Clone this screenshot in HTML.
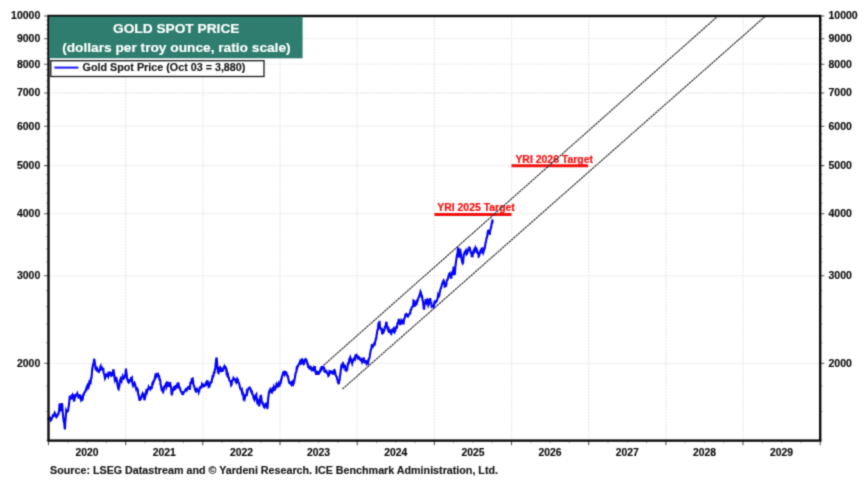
<!DOCTYPE html>
<html><head><meta charset="utf-8"><title>Gold Spot Price</title>
<style>
html,body{margin:0;padding:0;background:#fff;}
body{width:868px;height:481px;overflow:hidden;}
svg{display:block;}
#wrap{width:868px;height:481px;overflow:hidden;}
text{font-family:"Liberation Sans",sans-serif;font-weight:bold;}
</style></head><body>
<div id="wrap">
<svg width="868" height="481" viewBox="0 0 868 481">
<defs><filter id="soft" x="0" y="0" width="868" height="481" filterUnits="userSpaceOnUse" color-interpolation-filters="sRGB"><feConvolveMatrix order="3" kernelMatrix="1 4 1 4 16 4 1 4 1" divisor="36" edgeMode="duplicate" preserveAlpha="true"/></filter></defs>
<g filter="url(#soft)">
<rect x="-5" y="-5" width="878" height="491" fill="#ffffff"/>
<path d="M48.5 38.7H820.2M48.5 64.2H820.2M48.5 93.0H820.2M48.5 126.2H820.2M48.5 165.6H820.2M48.5 213.7H820.2M48.5 275.8H820.2M48.5 363.3H820.2M125.7 16.0V440.6M202.8 16.0V440.6M280.0 16.0V440.6M357.2 16.0V440.6M434.4 16.0V440.6M511.5 16.0V440.6M588.7 16.0V440.6M665.9 16.0V440.6M743.0 16.0V440.6" stroke="#ebebeb" stroke-width="1.3" stroke-dasharray="2 1" fill="none"/>
<path d="M434.4 214.5H511.5M511.5 165.7H588.1" stroke="#f41010" stroke-width="3" fill="none"/>
<text transform="translate(437.2 210.9) scale(1.046 1)" font-size="10.0" fill="#f31212" stroke="#f31212" stroke-width="0.2">YRI 2025 Target</text>
<text transform="translate(515.4 162.6) scale(1.046 1)" font-size="10.0" fill="#f31212" stroke="#f31212" stroke-width="0.2">YRI 2026 Target</text>
<path d="M323.7 365.2L718 16M342.4 389.1L765.6 16" stroke="#333" stroke-width="1.2" stroke-dasharray="2.4 0.6" fill="none"/>
<path d="M48.4 418.5L48.8 419.3L49.2 418.9L49.5 418.7L49.9 418.1L50.3 419.2L50.7 420.1L51.0 419.4L51.4 419.6L51.8 418.5L52.1 417.9L52.5 417.2L52.9 414.5L53.3 416.2L53.6 416.1L54.0 415.2L54.4 413.5L54.7 412.8L55.0 413.6L55.4 414.6L55.8 416.0L56.1 416.2L56.4 417.0L56.8 416.5L57.2 415.9L57.6 415.3L57.9 413.3L58.3 414.7L58.7 412.5L59.2 409.6L59.6 403.6L60.0 404.6L60.3 406.6L60.6 408.8L61.0 411.2L61.3 409.0L61.7 405.7L62.0 403.1L62.4 406.3L62.7 412.1L63.0 414.3L63.4 418.6L63.8 421.7L64.2 422.2L64.5 425.8L64.9 429.4L65.2 422.6L65.6 418.9L65.9 415.0L66.2 410.6L66.6 411.4L67.0 411.5L67.3 410.1L67.7 412.1L68.1 410.2L68.4 408.1L68.8 406.1L69.2 402.5L69.5 399.2L69.9 395.5L70.3 397.3L70.7 397.4L71.0 398.3L71.4 399.3L71.8 395.8L72.2 394.5L72.6 397.1L72.9 395.0L73.3 395.6L73.6 398.4L74.0 400.6L74.4 400.4L74.8 396.7L75.1 394.3L75.5 396.2L75.9 395.1L76.3 393.8L76.6 395.3L77.0 395.5L77.4 393.6L77.8 394.6L78.2 395.5L78.5 397.6L78.9 397.7L79.3 397.4L79.6 397.4L79.9 394.4L80.2 395.6L80.5 398.0L80.8 399.1L81.2 397.5L81.5 400.2L81.9 400.2L82.2 396.7L82.6 396.6L82.9 397.2L83.3 394.0L83.6 395.5L84.0 393.5L84.4 392.5L84.7 392.1L85.1 391.9L85.4 390.7L85.8 390.2L86.2 388.6L86.6 387.5L86.9 388.3L87.3 386.9L87.7 385.4L88.1 386.2L88.5 387.0L88.8 384.9L89.2 382.8L89.6 383.7L90.0 382.3L90.4 380.9L90.7 381.5L91.1 378.0L91.5 377.9L91.9 373.0L92.2 369.4L92.6 367.6L93.0 364.6L93.3 364.2L93.7 362.3L94.0 360.5L94.3 358.8L94.6 361.8L94.9 363.4L95.3 366.0L95.6 368.3L96.0 367.7L96.3 367.8L96.7 366.6L97.0 370.0L97.4 369.7L97.7 369.5L98.1 370.2L98.4 371.7L98.8 372.0L99.2 370.2L99.5 370.0L99.9 371.0L100.3 367.1L100.7 366.2L101.0 368.1L101.4 369.1L101.8 369.2L102.2 368.4L102.5 369.1L102.8 368.8L103.2 367.8L103.6 372.7L103.9 373.5L104.3 374.1L104.6 376.1L105.0 378.3L105.3 377.7L105.7 374.1L106.0 375.1L106.4 376.8L106.7 374.5L107.1 374.7L107.4 375.0L107.8 375.7L108.1 376.3L108.5 372.7L108.8 372.8L109.2 372.7L109.5 373.7L109.9 374.4L110.2 371.7L110.6 373.6L110.9 372.3L111.3 374.6L111.6 373.3L112.0 375.4L112.4 375.1L112.8 372.5L113.1 370.9L113.5 369.4L113.8 372.1L114.2 374.2L114.6 378.5L114.9 380.0L115.2 379.1L115.6 381.6L116.0 377.7L116.3 377.8L116.7 379.5L117.1 381.6L117.4 384.4L117.8 386.1L118.2 388.5L118.6 389.0L119.0 385.5L119.4 385.8L119.7 382.8L120.1 380.5L120.5 379.3L120.8 380.5L121.2 380.6L121.5 381.2L121.9 378.4L122.2 378.3L122.6 376.7L123.0 378.2L123.3 378.2L123.7 376.7L124.0 378.3L124.4 378.0L124.7 376.3L125.1 374.6L125.4 374.2L125.7 371.4L126.0 368.7L126.3 371.8L126.7 374.7L127.1 378.6L127.4 379.1L127.7 380.6L128.1 381.7L128.4 382.1L128.8 380.4L129.1 379.3L129.5 381.0L129.8 380.4L130.2 380.3L130.6 381.6L130.9 380.0L131.3 376.9L131.7 378.8L132.0 378.3L132.3 382.6L132.7 384.6L133.0 385.6L133.4 384.6L133.8 384.8L134.1 383.4L134.5 382.7L134.9 383.5L135.3 385.3L135.6 387.1L136.0 388.5L136.4 386.9L136.8 389.4L137.1 388.0L137.5 389.4L137.8 389.9L138.2 394.4L138.6 394.6L138.9 397.1L139.3 398.8L139.7 400.7L140.1 399.0L140.5 398.6L140.8 399.6L141.2 397.2L141.6 396.3L142.0 394.9L142.3 394.8L142.7 393.4L143.0 393.9L143.3 395.5L143.7 395.2L144.0 397.1L144.4 400.2L144.7 399.4L145.1 397.0L145.4 396.0L145.7 393.5L146.1 391.6L146.5 390.0L146.8 390.1L147.2 391.6L147.6 390.3L148.0 388.9L148.4 388.5L148.7 387.2L149.1 388.1L149.5 388.0L149.9 388.7L150.2 386.3L150.6 388.6L150.9 388.5L151.3 388.6L151.7 388.2L152.1 386.6L152.4 383.0L152.8 382.4L153.2 382.9L153.6 381.1L154.0 381.1L154.3 380.2L154.7 378.9L155.1 376.8L155.5 377.9L155.9 377.1L156.2 376.4L156.6 372.9L157.0 374.7L157.4 376.4L157.7 375.2L158.1 374.7L158.4 377.4L158.8 375.0L159.2 376.8L159.6 380.7L159.9 378.9L160.3 380.5L160.6 384.8L160.9 385.2L161.3 387.5L161.6 389.2L162.0 388.8L162.3 389.8L162.7 391.0L163.1 391.9L163.5 390.7L163.9 389.1L164.2 386.9L164.6 386.1L165.0 386.1L165.4 385.9L165.7 384.3L166.1 383.6L166.5 387.2L166.8 386.5L167.2 384.6L167.6 381.7L168.0 384.2L168.3 385.0L168.7 386.8L169.1 385.4L169.4 385.0L169.8 385.2L170.1 382.2L170.4 384.2L170.8 387.1L171.2 388.5L171.5 393.0L171.9 395.3L172.3 392.3L172.7 390.6L173.0 390.3L173.4 389.2L173.8 387.5L174.2 386.3L174.6 389.3L174.9 389.1L175.3 386.3L175.7 386.1L176.1 387.4L176.4 386.9L176.8 387.2L177.1 385.6L177.5 382.9L177.9 384.1L178.3 382.5L178.6 384.1L179.0 386.1L179.4 387.8L179.8 387.8L180.2 388.8L180.5 390.4L180.9 391.3L181.3 391.9L181.7 392.6L182.1 392.4L182.4 394.0L182.8 394.1L183.2 394.0L183.6 392.5L183.9 392.4L184.3 391.8L184.6 391.4L185.0 390.5L185.3 390.4L185.7 389.7L186.1 388.0L186.4 389.1L186.8 390.0L187.1 389.3L187.5 388.2L187.8 387.9L188.2 387.2L188.6 386.0L188.9 388.0L189.3 387.9L189.7 389.8L190.1 386.8L190.4 382.8L190.8 382.2L191.1 383.9L191.5 381.2L191.8 379.1L192.2 378.8L192.5 379.9L192.8 379.5L193.1 381.3L193.4 384.4L193.8 385.6L194.1 386.0L194.5 387.4L194.9 389.5L195.2 390.0L195.6 390.7L196.0 389.4L196.3 389.2L196.7 390.3L197.0 389.5L197.4 390.8L197.7 390.7L198.1 391.0L198.4 389.7L198.8 392.1L199.2 391.0L199.5 388.5L199.9 387.7L200.3 388.0L200.6 387.2L201.0 387.5L201.3 387.5L201.7 386.3L202.0 384.3L202.4 385.0L202.7 385.0L203.1 386.3L203.5 386.3L203.8 385.4L204.2 386.1L204.6 385.9L205.0 385.1L205.4 384.7L205.7 383.8L206.1 384.2L206.5 382.1L206.8 381.5L207.2 382.0L207.6 381.7L207.9 383.8L208.3 383.6L208.7 387.0L209.1 386.8L209.5 386.5L209.8 385.1L210.2 383.8L210.6 381.3L211.0 382.7L211.3 382.3L211.7 381.9L212.0 378.8L212.4 378.0L212.7 375.2L213.1 376.6L213.4 375.9L213.8 372.6L214.2 372.6L214.5 372.6L214.9 369.2L215.3 368.8L215.6 364.7L215.9 362.4L216.3 358.7L216.6 357.5L217.0 361.3L217.3 365.5L217.7 369.4L218.1 372.6L218.5 372.9L218.8 369.1L219.2 368.1L219.6 367.4L219.9 367.2L220.2 369.2L220.6 370.6L220.9 372.0L221.3 370.0L221.6 369.4L222.0 370.5L222.3 370.6L222.7 370.7L223.1 369.7L223.5 368.1L223.8 368.5L224.2 367.7L224.6 366.2L225.0 366.8L225.4 368.3L225.7 366.8L226.1 369.1L226.5 372.4L226.9 371.6L227.3 374.1L227.6 375.5L228.0 374.9L228.4 377.1L228.8 377.5L229.1 379.2L229.5 380.5L229.8 380.7L230.2 380.8L230.5 382.0L230.9 383.4L231.2 385.2L231.6 384.6L231.9 382.4L232.3 380.3L232.6 380.1L233.0 379.7L233.4 378.3L233.8 379.1L234.1 378.8L234.5 379.3L234.9 379.5L235.3 379.4L235.7 382.6L236.0 381.0L236.4 382.3L236.8 381.5L237.2 382.9L237.5 379.3L237.9 380.0L238.3 381.5L238.6 382.5L239.0 383.3L239.4 384.8L239.8 386.7L240.1 387.6L240.5 389.0L240.9 389.2L241.3 389.8L241.7 391.2L242.0 390.5L242.4 393.4L242.8 393.0L243.2 394.5L243.6 398.1L243.9 397.4L244.3 398.1L244.7 398.9L245.0 397.4L245.4 395.6L245.7 395.8L246.1 395.5L246.5 394.9L246.8 391.9L247.2 392.8L247.6 390.6L248.0 390.0L248.4 389.1L248.7 387.6L249.1 388.9L249.5 386.7L249.9 388.4L250.3 388.4L250.6 388.7L251.0 391.1L251.4 392.2L251.8 392.8L252.1 392.4L252.5 394.5L252.8 394.7L253.2 395.4L253.5 397.8L253.9 398.6L254.2 397.4L254.6 399.1L254.9 398.2L255.2 397.8L255.6 395.6L255.9 395.1L256.3 394.5L256.6 399.3L257.0 401.4L257.4 400.5L257.8 399.9L258.1 400.5L258.5 404.6L258.8 404.9L259.2 406.3L259.6 403.4L259.9 401.0L260.3 397.3L260.7 395.9L261.0 395.9L261.4 398.7L261.7 401.2L262.0 402.9L262.4 403.4L262.8 403.1L263.1 404.7L263.5 405.0L263.9 407.0L264.3 407.4L264.6 405.9L265.0 404.6L265.4 404.2L265.8 403.8L266.2 404.9L266.5 406.5L266.9 407.7L267.3 408.0L267.6 407.1L268.0 401.1L268.3 397.7L268.6 395.6L269.0 392.1L269.4 391.0L269.7 390.6L270.1 389.7L270.4 390.8L270.8 390.9L271.1 392.1L271.4 392.5L271.8 392.6L272.2 389.1L272.5 388.5L272.9 388.9L273.3 388.1L273.6 387.2L274.0 389.3L274.3 388.7L274.6 389.8L275.0 389.7L275.4 388.4L275.7 387.6L276.1 385.9L276.5 384.1L276.9 384.9L277.2 385.6L277.6 384.6L278.0 384.8L278.4 385.5L278.7 383.8L279.1 384.8L279.4 386.5L279.8 384.1L280.2 382.9L280.6 381.3L280.9 381.8L281.3 379.7L281.7 377.9L282.1 376.1L282.5 375.4L282.8 374.5L283.2 371.6L283.6 373.1L284.0 373.9L284.3 370.8L284.7 372.5L285.0 371.9L285.4 372.0L285.8 373.1L286.1 371.7L286.5 373.1L286.9 375.2L287.2 375.6L287.5 375.7L287.9 376.1L288.2 378.5L288.6 379.5L289.0 382.2L289.3 382.1L289.7 382.2L290.1 383.2L290.5 383.0L290.9 382.6L291.2 384.2L291.6 385.1L292.0 384.5L292.4 383.1L292.8 384.3L293.1 384.6L293.5 382.7L293.9 383.7L294.2 381.0L294.5 380.0L294.9 377.6L295.2 375.5L295.6 373.2L295.9 372.8L296.3 371.8L296.7 368.1L297.1 368.3L297.4 366.0L297.8 365.7L298.1 365.9L298.5 365.1L298.9 364.1L299.2 363.4L299.6 363.2L300.0 361.8L300.3 362.4L300.6 362.4L301.0 363.9L301.3 363.8L301.6 360.0L302.0 360.3L302.3 359.6L302.7 360.1L303.1 362.7L303.4 363.1L303.8 364.0L304.2 363.5L304.5 360.4L304.9 359.6L305.2 359.3L305.6 359.0L306.0 359.7L306.4 361.0L306.7 360.9L307.1 362.6L307.5 364.2L307.9 364.2L308.3 367.9L308.6 366.4L309.0 367.2L309.4 368.1L309.8 369.5L310.2 367.4L310.5 365.8L310.9 368.5L311.3 369.3L311.6 369.5L312.0 371.4L312.3 369.0L312.6 367.4L313.0 369.0L313.3 369.1L313.7 371.0L314.0 368.7L314.4 369.6L314.8 366.1L315.1 370.2L315.5 370.5L315.8 372.3L316.2 374.7L316.5 373.3L316.9 372.7L317.3 372.3L317.6 371.9L318.0 372.2L318.3 373.8L318.7 373.8L319.1 372.9L319.5 371.7L319.8 371.9L320.2 370.9L320.6 369.1L321.0 369.4L321.4 368.2L321.8 366.3L322.1 368.4L322.5 367.6L322.9 365.9L323.3 367.9L323.6 368.4L324.0 366.9L324.3 370.5L324.7 370.2L325.1 371.7L325.5 371.5L325.9 371.4L326.2 370.0L326.6 372.7L327.0 372.8L327.4 373.0L327.7 374.1L328.1 374.6L328.4 375.8L328.8 375.4L329.2 374.5L329.6 371.2L329.9 371.4L330.3 372.1L330.7 371.6L331.1 371.4L331.5 371.5L331.8 373.8L332.2 372.6L332.6 373.1L333.0 374.4L333.4 372.4L333.7 372.7L334.1 370.2L334.5 370.0L334.9 371.0L335.2 372.4L335.6 374.8L336.0 375.9L336.4 376.4L336.8 376.9L337.1 379.2L337.5 379.8L337.8 381.3L338.1 382.8L338.5 383.0L338.8 384.2L339.2 380.3L339.6 380.1L339.9 376.0L340.3 374.9L340.7 370.8L341.1 367.6L341.5 365.2L341.9 365.0L342.3 364.2L342.6 364.8L343.0 366.1L343.4 364.2L343.8 365.1L344.1 366.7L344.5 366.5L344.8 365.0L345.2 367.7L345.5 371.0L345.9 367.5L346.2 369.1L346.5 370.6L346.9 370.2L347.3 368.7L347.6 366.1L348.0 363.3L348.4 362.9L348.8 363.1L349.2 360.2L349.5 358.7L349.9 358.7L350.3 357.3L350.7 358.3L351.1 359.6L351.4 361.9L351.8 362.0L352.2 363.4L352.6 361.9L352.9 361.3L353.3 359.6L353.6 359.1L354.0 358.6L354.4 359.4L354.8 359.7L355.1 356.6L355.5 355.6L355.9 354.3L356.3 357.0L356.7 355.8L357.0 356.4L357.4 357.6L357.8 356.8L358.2 357.8L358.5 358.1L358.9 356.4L359.2 358.4L359.6 359.7L360.0 357.7L360.4 359.9L360.7 360.2L361.1 360.7L361.5 360.5L361.9 361.6L362.3 359.8L362.6 360.2L363.0 358.6L363.4 358.6L363.8 358.4L364.2 359.4L364.5 362.4L364.9 362.4L365.3 362.1L365.7 361.0L366.0 361.1L366.4 362.4L366.7 363.8L367.1 363.3L367.5 363.1L367.9 361.7L368.2 362.4L368.6 360.1L369.0 359.0L369.4 358.2L369.8 355.9L370.1 353.5L370.5 351.5L370.8 349.8L371.1 349.5L371.5 348.1L371.8 345.6L372.2 346.0L372.6 346.0L372.9 344.5L373.3 345.9L373.7 345.1L374.1 343.8L374.5 344.1L374.8 344.2L375.2 341.3L375.6 340.7L375.9 337.8L376.2 339.1L376.6 335.1L376.9 333.6L377.3 330.7L377.6 329.7L378.0 329.5L378.4 323.8L378.7 323.2L379.0 324.3L379.4 323.9L379.7 323.4L380.1 327.8L380.4 328.3L380.8 328.7L381.1 330.0L381.5 327.9L381.8 330.7L382.1 330.0L382.4 330.9L382.8 333.1L383.1 332.9L383.4 332.5L383.8 329.2L384.1 330.7L384.5 329.8L384.9 327.2L385.2 327.0L385.5 325.9L385.9 324.9L386.2 321.8L386.6 323.0L386.9 326.2L387.3 328.0L387.7 329.0L388.1 326.4L388.5 328.5L388.8 329.8L389.2 332.9L389.6 330.2L390.0 330.2L390.4 330.9L390.7 332.3L391.1 331.6L391.5 332.6L391.8 330.9L392.1 330.8L392.5 329.4L392.8 329.3L393.2 329.2L393.6 328.6L393.9 331.9L394.3 332.3L394.7 330.7L395.1 330.3L395.4 330.5L395.8 328.1L396.1 327.5L396.5 327.9L396.8 327.8L397.1 326.5L397.5 322.5L397.8 324.1L398.2 322.6L398.5 320.7L398.9 318.9L399.2 320.9L399.6 321.9L399.9 322.6L400.3 325.1L400.7 323.3L401.1 322.1L401.4 320.4L401.8 321.0L402.1 319.9L402.5 322.0L402.9 321.2L403.2 322.7L403.6 323.1L403.9 321.2L404.2 318.7L404.6 318.0L405.0 317.5L405.3 314.6L405.7 314.4L406.0 314.8L406.4 314.0L406.8 314.4L407.2 315.5L407.5 316.1L407.9 316.5L408.3 315.8L408.7 315.0L409.1 314.5L409.4 313.9L409.8 313.3L410.2 313.3L410.6 310.2L410.9 310.0L411.3 309.6L411.6 307.7L412.0 307.6L412.4 307.1L412.8 305.5L413.1 306.8L413.5 301.2L413.9 301.8L414.3 300.2L414.6 303.4L415.0 306.7L415.4 303.3L415.7 303.3L416.0 304.0L416.4 303.1L416.7 303.3L417.1 299.6L417.5 301.0L417.8 300.2L418.2 298.8L418.6 297.3L419.0 297.1L419.4 295.2L419.7 294.8L420.1 293.2L420.5 291.7L420.9 292.7L421.2 294.5L421.6 296.4L422.0 296.2L422.3 297.9L422.6 300.4L423.0 301.8L423.3 303.7L423.8 308.7L424.2 308.7L424.6 303.9L424.9 303.8L425.3 302.8L425.7 299.1L426.0 300.9L426.4 300.1L426.7 300.4L427.0 302.5L427.4 301.6L427.8 300.2L428.1 300.8L428.5 305.1L428.9 304.3L429.2 302.2L429.5 300.0L429.9 299.6L430.2 298.1L430.6 301.5L430.9 302.5L431.3 302.9L431.7 306.3L432.1 305.8L432.5 306.4L432.8 306.5L433.2 306.3L433.6 306.9L434.0 305.4L434.3 303.0L434.7 301.2L435.0 301.2L435.4 302.4L435.8 301.7L436.2 301.5L436.5 301.5L436.9 300.5L437.3 299.1L437.7 297.5L438.1 295.1L438.4 295.9L438.8 296.5L439.2 295.9L439.5 293.8L439.9 291.6L440.2 290.2L440.6 288.9L441.0 288.2L441.3 286.9L441.7 285.2L442.1 284.0L442.5 282.9L442.9 282.1L443.2 281.1L443.6 280.5L444.0 281.9L444.4 284.6L444.7 283.8L445.1 284.6L445.4 286.1L445.8 285.7L446.2 285.7L446.6 281.7L446.9 280.2L447.3 280.1L447.7 279.3L448.1 278.4L448.5 276.0L448.8 275.1L449.2 273.8L449.6 273.4L449.9 275.9L450.2 275.0L450.6 275.9L450.9 277.7L451.3 277.7L451.6 275.5L452.0 272.9L452.4 272.1L452.7 272.6L453.0 270.6L453.4 269.7L453.7 266.7L454.0 270.1L454.3 272.1L454.6 275.1L455.0 272.8L455.4 266.3L455.8 263.4L456.1 261.4L456.5 258.3L456.8 256.1L457.1 254.6L457.6 253.1L458.0 247.4L458.4 253.3L458.9 257.4L459.2 256.6L459.6 252.5L459.9 248.8L460.2 249.6L460.5 252.4L460.9 253.6L461.2 256.9L461.6 259.1L461.9 260.5L462.3 262.4L462.7 263.3L463.0 262.8L463.4 259.1L463.7 255.1L464.0 254.8L464.4 253.1L464.8 251.8L465.1 251.5L465.5 251.5L465.9 250.6L466.2 251.8L466.6 254.3L467.0 253.8L467.4 252.5L467.8 251.3L468.1 249.9L468.5 248.7L468.9 248.0L469.3 248.8L469.6 246.9L470.0 249.5L470.3 250.1L470.7 252.5L471.1 252.5L471.5 253.8L471.8 257.1L472.2 255.0L472.6 255.5L473.0 253.2L473.4 251.1L473.7 250.5L474.1 252.4L474.5 252.0L474.9 249.2L475.2 248.3L475.6 250.0L475.9 248.5L476.3 248.4L476.6 249.5L477.0 251.7L477.4 253.6L477.7 252.4L478.0 253.3L478.4 253.9L478.7 256.5L479.0 256.2L479.4 254.5L479.8 253.5L480.1 252.2L480.5 250.6L480.9 250.4L481.2 249.6L481.6 250.4L481.9 249.8L482.3 252.7L482.7 252.8L483.1 250.4L483.4 252.2L483.8 251.1L484.1 247.4L484.5 249.2L484.8 247.8L485.1 246.1L485.5 242.9L485.8 242.1L486.1 240.7L486.5 238.6L486.9 237.2L487.2 236.6L487.6 233.2L487.9 231.6L488.2 230.9L488.6 231.5L488.9 232.2L489.2 233.0L489.5 233.7L489.8 233.8L490.1 231.1L490.5 229.2L490.8 228.4L491.2 226.9L491.7 223.6L492.0 222.3L492.3 223.3L492.6 220.6" stroke="#0505f5" stroke-width="2.15" stroke-linejoin="miter" stroke-linecap="round" fill="none"/>
<path d="M44.1 16.0H48.5M820.2 16.0H824.4M44.1 38.7H48.5M820.2 38.7H824.4M44.1 64.2H48.5M820.2 64.2H824.4M44.1 93.0H48.5M820.2 93.0H824.4M44.1 126.2H48.5M820.2 126.2H824.4M44.1 165.6H48.5M820.2 165.6H824.4M44.1 213.7H48.5M820.2 213.7H824.4M44.1 275.8H48.5M820.2 275.8H824.4M44.1 363.3H48.5M820.2 363.3H824.4M48.5 440.6V445.2M125.7 440.6V445.2M202.8 440.6V445.2M280.0 440.6V445.2M357.2 440.6V445.2M434.4 440.6V445.2M511.5 440.6V445.2M588.7 440.6V445.2M665.9 440.6V445.2M743.0 440.6V445.2M820.2 440.6V445.2" stroke="#555" stroke-width="1.1" fill="none"/>
<path d="M45.9 440.3H48.5M820.2 440.3H822.6M45.9 411.5H48.5M820.2 411.5H822.6M45.9 386.1H48.5M820.2 386.1H822.6M45.9 342.8H48.5M820.2 342.8H822.6M45.9 324.0H48.5M820.2 324.0H822.6M45.9 306.7H48.5M820.2 306.7H822.6M45.9 290.7H48.5M820.2 290.7H822.6M45.9 261.9H48.5M820.2 261.9H822.6M45.9 248.8H48.5M820.2 248.8H822.6M45.9 236.5H48.5M820.2 236.5H822.6M45.9 224.8H48.5M820.2 224.8H822.6M45.9 203.2H48.5M820.2 203.2H822.6M45.9 193.2H48.5M820.2 193.2H822.6M45.9 183.6H48.5M820.2 183.6H822.6M45.9 174.4H48.5M820.2 174.4H822.6M45.9 157.1H48.5M820.2 157.1H822.6M45.9 149.0H48.5M820.2 149.0H822.6M45.9 141.1H48.5M820.2 141.1H822.6M45.9 133.6H48.5M820.2 133.6H822.6M45.9 119.2H48.5M820.2 119.2H822.6M45.9 112.3H48.5M820.2 112.3H822.6M45.9 105.7H48.5M820.2 105.7H822.6M45.9 99.2H48.5M820.2 99.2H822.6M45.9 86.9H48.5M820.2 86.9H822.6M45.9 81.0H48.5M820.2 81.0H822.6M45.9 75.2H48.5M820.2 75.2H822.6M45.9 69.6H48.5M820.2 69.6H822.6M45.9 58.8H48.5M820.2 58.8H822.6M45.9 53.6H48.5M820.2 53.6H822.6M45.9 48.5H48.5M820.2 48.5H822.6M45.9 43.6H48.5M820.2 43.6H822.6M45.9 34.0H48.5M820.2 34.0H822.6M45.9 29.4H48.5M820.2 29.4H822.6M45.9 24.8H48.5M820.2 24.8H822.6M45.9 20.4H48.5M820.2 20.4H822.6M67.8 440.6V443.2M87.1 440.6V443.2M106.4 440.6V443.2M145.0 440.6V443.2M164.3 440.6V443.2M183.5 440.6V443.2M222.1 440.6V443.2M241.4 440.6V443.2M260.7 440.6V443.2M299.3 440.6V443.2M318.6 440.6V443.2M337.9 440.6V443.2M376.5 440.6V443.2M395.8 440.6V443.2M415.1 440.6V443.2M453.6 440.6V443.2M472.9 440.6V443.2M492.2 440.6V443.2M530.8 440.6V443.2M550.1 440.6V443.2M569.4 440.6V443.2M608.0 440.6V443.2M627.3 440.6V443.2M646.6 440.6V443.2M685.2 440.6V443.2M704.4 440.6V443.2M723.7 440.6V443.2M762.3 440.6V443.2M781.6 440.6V443.2M800.9 440.6V443.2" stroke="#a8a8a8" stroke-width="0.9" fill="none"/>
<rect x="48.5" y="16.0" width="771.7" height="424.6" fill="none" stroke="#0c0c0c" stroke-width="2.4"/>
<rect x="49.4" y="16.6" width="253.2" height="41.7" fill="#2e7d6f"/>
<text transform="translate(176.2 32.8) scale(1.047 1)" font-size="13.1" text-anchor="middle" fill="#ffffff" stroke="#ffffff" stroke-width="0.15">GOLD SPOT PRICE</text>
<text transform="translate(176.4 51.9) scale(1.072 1)" font-size="12.8" text-anchor="middle" fill="#ffffff" stroke="#ffffff" stroke-width="0.15">(dollars per troy ounce, ratio scale)</text>
<rect x="50.8" y="60.7" width="213.2" height="15.8" fill="#ffffff" stroke="#1a1a1a" stroke-width="1.3"/>
<path d="M54.4 67.6H78.3" stroke="#1414ff" stroke-width="2"/>
<text transform="translate(82.6 71.2) scale(1.046 1)" font-size="10.3" fill="#181818" stroke="#181818" stroke-width="0.15">Gold Spot Price (Oct 03 = 3,880)</text>
<text x="40.3" y="18.6" font-size="10.5" text-anchor="end" fill="#0c0c0c" stroke="#0c0c0c" stroke-width="0.15">10000</text>
<text x="828.5" y="18.6" font-size="10.5" fill="#0c0c0c" stroke="#0c0c0c" stroke-width="0.15">10000</text>
<text x="40.3" y="42.1" font-size="10.5" text-anchor="end" fill="#0c0c0c" stroke="#0c0c0c" stroke-width="0.15">9000</text>
<text x="828.5" y="42.1" font-size="10.5" fill="#0c0c0c" stroke="#0c0c0c" stroke-width="0.15">9000</text>
<text x="40.3" y="67.6" font-size="10.5" text-anchor="end" fill="#0c0c0c" stroke="#0c0c0c" stroke-width="0.15">8000</text>
<text x="828.5" y="67.6" font-size="10.5" fill="#0c0c0c" stroke="#0c0c0c" stroke-width="0.15">8000</text>
<text x="40.3" y="96.4" font-size="10.5" text-anchor="end" fill="#0c0c0c" stroke="#0c0c0c" stroke-width="0.15">7000</text>
<text x="828.5" y="96.4" font-size="10.5" fill="#0c0c0c" stroke="#0c0c0c" stroke-width="0.15">7000</text>
<text x="40.3" y="129.6" font-size="10.5" text-anchor="end" fill="#0c0c0c" stroke="#0c0c0c" stroke-width="0.15">6000</text>
<text x="828.5" y="129.6" font-size="10.5" fill="#0c0c0c" stroke="#0c0c0c" stroke-width="0.15">6000</text>
<text x="40.3" y="169.0" font-size="10.5" text-anchor="end" fill="#0c0c0c" stroke="#0c0c0c" stroke-width="0.15">5000</text>
<text x="828.5" y="169.0" font-size="10.5" fill="#0c0c0c" stroke="#0c0c0c" stroke-width="0.15">5000</text>
<text x="40.3" y="217.1" font-size="10.5" text-anchor="end" fill="#0c0c0c" stroke="#0c0c0c" stroke-width="0.15">4000</text>
<text x="828.5" y="217.1" font-size="10.5" fill="#0c0c0c" stroke="#0c0c0c" stroke-width="0.15">4000</text>
<text x="40.3" y="279.2" font-size="10.5" text-anchor="end" fill="#0c0c0c" stroke="#0c0c0c" stroke-width="0.15">3000</text>
<text x="828.5" y="279.2" font-size="10.5" fill="#0c0c0c" stroke="#0c0c0c" stroke-width="0.15">3000</text>
<text x="40.3" y="366.7" font-size="10.5" text-anchor="end" fill="#0c0c0c" stroke="#0c0c0c" stroke-width="0.15">2000</text>
<text x="828.5" y="366.7" font-size="10.5" fill="#0c0c0c" stroke="#0c0c0c" stroke-width="0.15">2000</text>
<text x="87.1" y="456.2" font-size="10.35" text-anchor="middle" fill="#0c0c0c" stroke="#0c0c0c" stroke-width="0.15">2020</text>
<text x="164.3" y="456.2" font-size="10.35" text-anchor="middle" fill="#0c0c0c" stroke="#0c0c0c" stroke-width="0.15">2021</text>
<text x="241.4" y="456.2" font-size="10.35" text-anchor="middle" fill="#0c0c0c" stroke="#0c0c0c" stroke-width="0.15">2022</text>
<text x="318.6" y="456.2" font-size="10.35" text-anchor="middle" fill="#0c0c0c" stroke="#0c0c0c" stroke-width="0.15">2023</text>
<text x="395.8" y="456.2" font-size="10.35" text-anchor="middle" fill="#0c0c0c" stroke="#0c0c0c" stroke-width="0.15">2024</text>
<text x="472.9" y="456.2" font-size="10.35" text-anchor="middle" fill="#0c0c0c" stroke="#0c0c0c" stroke-width="0.15">2025</text>
<text x="550.1" y="456.2" font-size="10.35" text-anchor="middle" fill="#0c0c0c" stroke="#0c0c0c" stroke-width="0.15">2026</text>
<text x="627.3" y="456.2" font-size="10.35" text-anchor="middle" fill="#0c0c0c" stroke="#0c0c0c" stroke-width="0.15">2027</text>
<text x="704.4" y="456.2" font-size="10.35" text-anchor="middle" fill="#0c0c0c" stroke="#0c0c0c" stroke-width="0.15">2028</text>
<text x="781.6" y="456.2" font-size="10.35" text-anchor="middle" fill="#0c0c0c" stroke="#0c0c0c" stroke-width="0.15">2029</text>
<text transform="translate(50.1 473.8) scale(1.042 1)" font-size="10.3" fill="#181818" stroke="#181818" stroke-width="0.15">Source: LSEG Datastream and © Yardeni Research. ICE Benchmark Administration, Ltd.</text>
</g>
</svg>
</div>
</body></html>
